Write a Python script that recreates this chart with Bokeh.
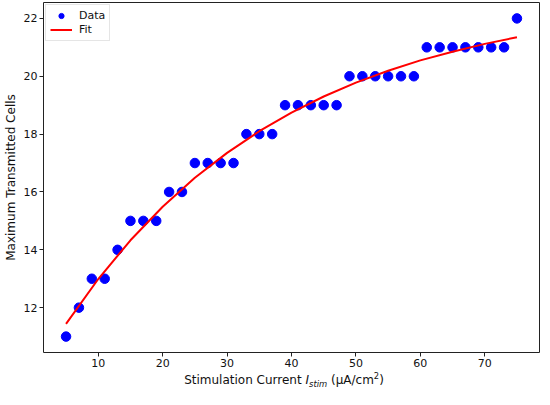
from bokeh.plotting import figure
from bokeh.models import Range1d, FixedTicker, Legend, LegendItem, Div
from bokeh.layouts import column
from bokeh.embed import file_html
from bokeh.resources import INLINE

# ---- data ----
current = [5, 7, 9, 11, 13, 15, 17, 19, 21, 23, 25, 27, 29, 31, 33, 35, 37, 39,
           41, 43, 45, 47, 49, 51, 53, 55, 57, 59, 61, 63, 65, 67, 69, 71, 73, 75]
cells = [11, 12, 13, 13, 14, 15, 15, 15, 16, 16, 17, 17, 17, 17, 18, 18, 18, 19,
         19, 19, 19, 19, 20, 20, 20, 20, 20, 20, 21, 21, 21, 21, 21, 21, 21, 22]
fit_x = [5, 10, 15, 20, 25, 30, 35, 40, 45, 50, 55, 60, 65, 70, 75]
fit_y = [11.44, 12.99, 14.33, 15.49, 16.49, 17.35, 18.10, 18.74, 19.30,
         19.78, 20.19, 20.55, 20.85, 21.12, 21.35]
x_ticks = [10, 20, 30, 40, 50, 60, 70]
y_ticks = [12, 14, 16, 18, 20, 22]
legend_labels = ["Data", "Fit"]
y_label = "Maximum Transmitted Cells"

FONT = "DejaVu Sans"

p = figure(frame_width=496, frame_height=350, output_backend="svg",
           toolbar_location=None,
           x_range=Range1d(1.5, 78.5), y_range=Range1d(10.45, 22.55),
           min_border_left=36, min_border_right=2, min_border_top=2,
           min_border_bottom=20)
p.background_fill_color = "white"
p.border_fill_color = "white"
p.outline_line_color = "#222222"
p.outline_line_width = 1
p.xgrid.grid_line_color = None
p.ygrid.grid_line_color = None

for ax, ticks in ((p.xaxis[0], x_ticks), (p.yaxis[0], y_ticks)):
    ax.ticker = FixedTicker(ticks=ticks, minor_ticks=[])
    ax.axis_line_color = None
    ax.major_tick_out = 4
    ax.major_tick_in = 0
    ax.major_tick_line_color = "#222222"
    ax.minor_tick_line_color = None
    ax.major_label_text_font = FONT
    ax.major_label_text_font_size = "11px"
    ax.major_label_text_color = "#111111"
    ax.major_label_standoff = 2

p.yaxis.axis_label = y_label
p.yaxis.axis_label_text_font = FONT
p.yaxis.axis_label_text_font_size = "12px"
p.yaxis.axis_label_text_font_style = "normal"
p.yaxis.axis_label_text_color = "#111111"
p.yaxis.axis_label_standoff = 3

r_data = p.scatter(current, cells, size=9.5, color="#0000ff", line_color="#0000ff")
r_fit = p.line(fit_x, fit_y, line_color="#ff0000", line_width=2)

legend = Legend(items=[LegendItem(label=legend_labels[0], renderers=[r_data]),
                       LegendItem(label=legend_labels[1], renderers=[r_fit])],
                location="top_left")
legend.margin = 2
legend.padding = 4
legend.spacing = 1
legend.glyph_width = 22
legend.glyph_height = 13
legend.label_height = 13
legend.label_standoff = 7
legend.label_text_font = FONT
legend.label_text_font_size = "11px"
legend.label_text_color = "#111111"
legend.border_line_color = "#cccccc"
legend.border_line_width = 1
legend.background_fill_alpha = 0.8
p.add_layout(legend, "center")

# x-axis label as real text: Stimulation Current I_stim (μA/cm²)
xlabel_html = (
    '<div style="position:relative; left:17px; width:534px; text-align:center; '
    'font-family:\'DejaVu Sans\'; font-size:12px; line-height:15px; color:#111111; '
    'white-space:nowrap;">'
    'Stimulation Current <i>I</i><span style="font-style:italic; font-size:8.4px; '
    'position:relative; top:2.5px;">stim</span> (μA/cm<span style="font-size:8.4px; '
    'position:relative; top:-5px;">2</span>)</div>'
)
xlabel = Div(text=xlabel_html, width=534, height=16, margin=(0, 0, 0, 0))

layout = column(p, xlabel, spacing=0)
open("out.html", "w").write(file_html(layout, INLINE))
